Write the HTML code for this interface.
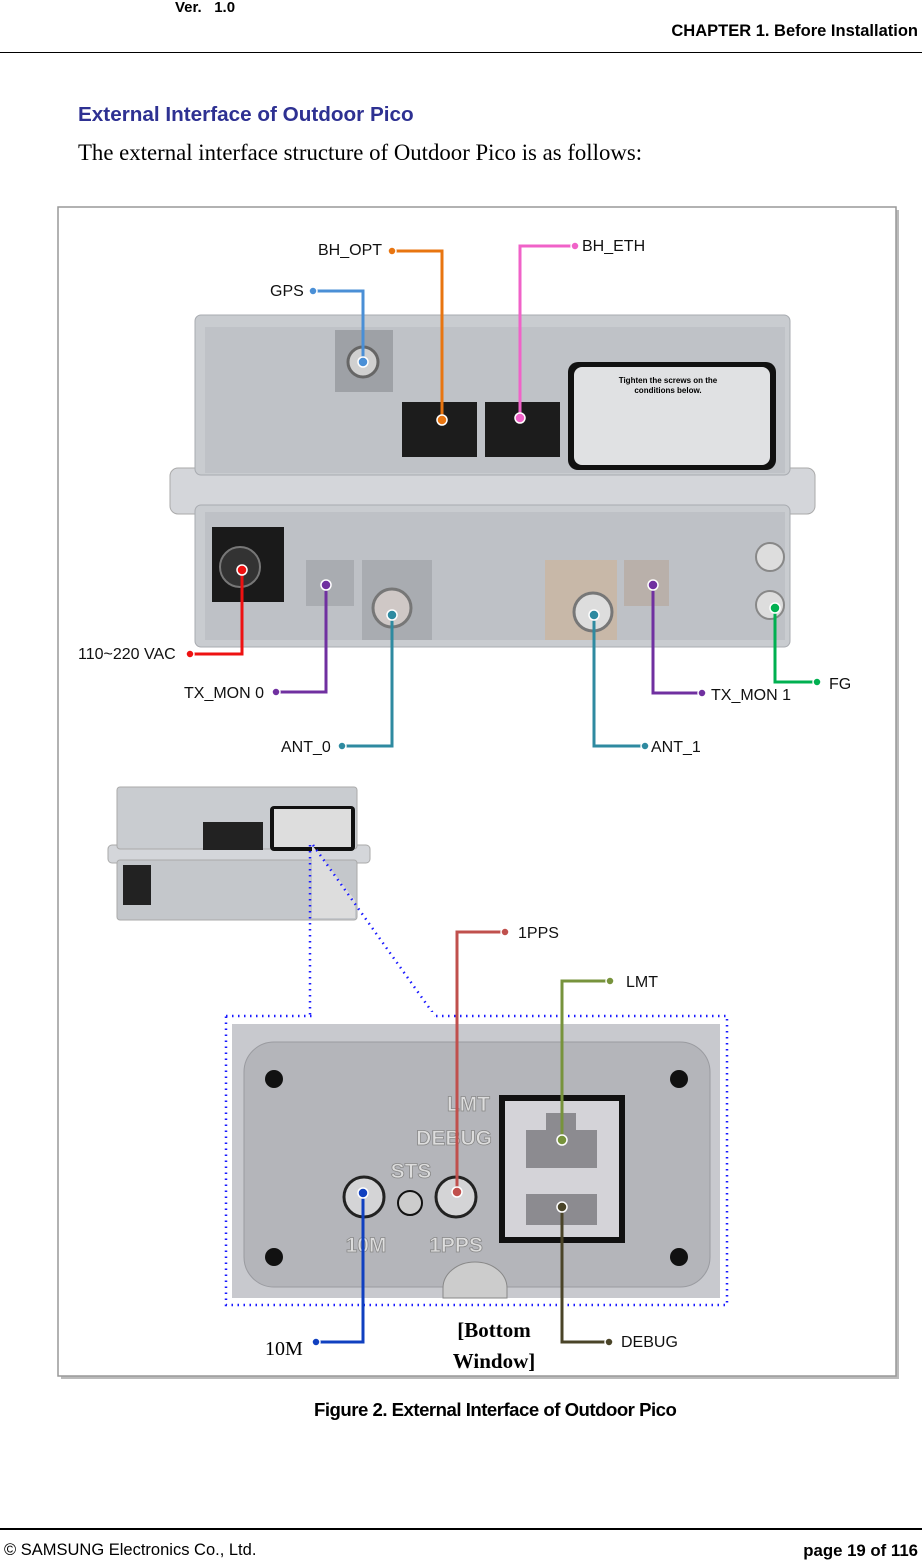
<!DOCTYPE html>
<html><head><meta charset="utf-8"><style>
body{margin:0;background:#fff;width:922px;height:1560px;position:relative;overflow:hidden;font-family:"Liberation Sans",sans-serif}
.t{position:absolute;white-space:nowrap}
</style></head><body>
<div class="t" style="left:175px;top:-1px;font-size:15px;font-weight:bold">Ver.&nbsp;&nbsp;&nbsp;1.0</div>
<div class="t" style="right:4px;top:22px;font-size:16.5px;font-weight:bold">CHAPTER 1. Before Installation</div>
<div style="position:absolute;left:0;top:52px;width:922px;height:1px;background:#000"></div>
<div class="t" style="left:78px;top:103px;font-size:20.7px;font-weight:bold;color:#2e3192">External Interface of Outdoor Pico</div>
<div class="t" style="left:78px;top:140px;font-size:22.8px;font-family:'Liberation Serif',serif">The external interface structure of Outdoor Pico is as follows:</div>
<div class="t" style="left:314px;top:1399px;font-size:18.6px;font-weight:bold;letter-spacing:-0.5px">Figure 2. External Interface of Outdoor Pico</div>
<div style="position:absolute;left:0;top:1528px;width:922px;height:2px;background:#000"></div>
<div class="t" style="left:4px;top:1541px;font-size:16.5px">© SAMSUNG Electronics Co., Ltd.</div>
<div class="t" style="right:4px;top:1541px;font-size:16.8px;font-weight:bold">page 19 of 116</div>

<svg style="position:absolute;left:0;top:0" width="922" height="1560" font-family="Liberation Sans, sans-serif">
<rect x="61" y="210" width="838" height="1169" fill="#bbb"/>
<rect x="58" y="207" width="838" height="1169" fill="#fff" stroke="#999" stroke-width="1.5"/>
<rect x="170" y="468" width="645" height="46" rx="8" fill="#d4d6da" stroke="#aaa"/>
<rect x="195" y="315" width="595" height="160" rx="6" fill="#c9ccd0" stroke="#a8abb0"/>
<rect x="205" y="327" width="580" height="146" fill="#bfc2c7"/>
<rect x="195" y="505" width="595" height="142" rx="6" fill="#c9ccd0" stroke="#a8abb0"/>
<rect x="205" y="512" width="580" height="128" fill="#bec1c6"/>
<rect x="335" y="330" width="58" height="62" fill="#9ea1a6"/>
<circle cx="363" cy="362" r="15" fill="#d0d0d0" stroke="#666" stroke-width="3"/>
<rect x="402" y="402" width="75" height="55" fill="#1c1c1c"/>
<rect x="485" y="402" width="75" height="55" fill="#1c1c1c"/>
<rect x="568" y="362" width="208" height="108" rx="10" fill="#111"/>
<rect x="574" y="367" width="196" height="98" rx="8" fill="#e0e1e3"/>
<text x="668" y="383" font-size="8" text-anchor="middle" font-weight="bold">Tighten the screws on the</text>
<text x="668" y="393" font-size="8" text-anchor="middle" font-weight="bold">conditions below.</text>
<rect x="212" y="527" width="72" height="75" fill="#1a1a1a"/>
<circle cx="240" cy="567" r="20" fill="#333" stroke="#777" stroke-width="2"/>
<rect x="306" y="560" width="48" height="46" fill="#a9acb1"/>
<rect x="362" y="560" width="70" height="80" fill="#a9acb1"/>
<circle cx="392" cy="608" r="19" fill="#cfc8c6" stroke="#777" stroke-width="3"/>
<rect x="545" y="560" width="72" height="80" fill="#c8b8a8"/>
<circle cx="593" cy="612" r="19" fill="#ddd" stroke="#777" stroke-width="3"/>
<rect x="624" y="560" width="45" height="46" fill="#b9b0aa"/>
<circle cx="770" cy="557" r="14" fill="#ddd" stroke="#888" stroke-width="2"/>
<circle cx="770" cy="605" r="14" fill="#ddd" stroke="#888" stroke-width="2"/>
<rect x="108" y="845" width="262" height="18" rx="4" fill="#d4d6da" stroke="#aaa"/>
<rect x="117" y="787" width="240" height="62" rx="3" fill="#c9ccd0" stroke="#aaa"/>
<rect x="117" y="860" width="240" height="60" rx="3" fill="#c4c7cb" stroke="#aaa"/>
<rect x="203" y="822" width="60" height="28" fill="#222"/>
<rect x="270" y="806" width="85" height="45" rx="4" fill="#111"/>
<rect x="274" y="809" width="77" height="38" fill="#ddd"/>
<rect x="123" y="865" width="28" height="40" fill="#222"/>
<polygon points="312,845 355,900 355,918 312,918" fill="#ddd"/>
<rect x="232" y="1024" width="488" height="274" fill="#c8c9ce"/>
<rect x="244" y="1042" width="466" height="245" rx="30" fill="#b4b5ba" stroke="#9a9ba0"/>
<circle cx="274" cy="1079" r="9" fill="#111"/><circle cx="679" cy="1079" r="9" fill="#111"/>
<circle cx="274" cy="1257" r="9" fill="#111"/><circle cx="679" cy="1257" r="9" fill="#111"/>
<text x="490" y="1111" font-size="21" font-weight="bold" fill="#ddd" stroke="#888" stroke-width=".8" text-anchor="end">LMT</text>
<text x="492" y="1145" font-size="21" font-weight="bold" fill="#ddd" stroke="#888" stroke-width=".8" text-anchor="end">DEBUG</text>
<text x="411" y="1178" font-size="21" font-weight="bold" fill="#ddd" stroke="#888" stroke-width=".8" text-anchor="middle">STS</text>
<text x="366" y="1252" font-size="21" font-weight="bold" fill="#ddd" stroke="#888" stroke-width=".8" text-anchor="middle">10M</text>
<text x="456" y="1252" font-size="21" font-weight="bold" fill="#ddd" stroke="#888" stroke-width=".8" text-anchor="middle">1PPS</text>
<circle cx="364" cy="1197" r="20" fill="#d4d4d6" stroke="#222" stroke-width="3"/>
<circle cx="410" cy="1203" r="12" fill="#ccc" stroke="#111" stroke-width="2"/>
<circle cx="456" cy="1197" r="20" fill="#d4d4d6" stroke="#222" stroke-width="3"/>
<rect x="502" y="1098" width="120" height="142" fill="#d4d3d8" stroke="#111" stroke-width="6"/>
<polygon points="526,1130 546,1130 546,1113 576,1113 576,1130 597,1130 597,1168 526,1168" fill="#8c8b90"/>
<rect x="526" y="1194" width="71" height="31" fill="#8c8b90"/>
<path d="M443,1298 v-10 a32,26 0 0 1 64,0 v10z" fill="#ccc" stroke="#888"/>
<g fill="none" stroke="#1a1aff" stroke-width="2.5" stroke-dasharray="1.5 4.5">
<rect x="226" y="1016" width="501" height="289"/>
<line x1="310" y1="845" x2="310" y2="1016"/>
<line x1="313" y1="845" x2="435" y2="1016"/>
</g>
<rect x="312" y="1012" width="122" height="8" fill="#fff"/>
<g fill="none" stroke-width="3">
<polyline points="313,291 363,291 363,362" stroke="#4a8fd6"/>
<polyline points="392,251 442,251 442,420" stroke="#e87510"/>
<polyline points="575,246 520,246 520,418" stroke="#f062c8"/>
<polyline points="190,654 242,654 242,570" stroke="#ee1111"/>
<polyline points="276,692 326,692 326,585" stroke="#7030a0"/>
<polyline points="342,746 392,746 392,615" stroke="#2e8aa0"/>
<polyline points="645,746 594,746 594,615" stroke="#2e8aa0"/>
<polyline points="702,693 653,693 653,585" stroke="#7030a0"/>
<polyline points="817,682 775,682 775,608" stroke="#00b050"/>
<polyline points="505,932 457,932 457,1192" stroke="#c0504d"/>
<polyline points="610,981 562,981 562,1140" stroke="#77933c"/>
<polyline points="609,1342 562,1342 562,1207" stroke="#4a4428"/>
<polyline points="316,1342 363,1342 363,1193" stroke="#1040c0"/>
</g>
<g stroke="#fff" stroke-width="1.5">
<circle cx="313" cy="291" r="4" fill="#4a8fd6"/><circle cx="363" cy="362" r="5" fill="#4a8fd6"/>
<circle cx="392" cy="251" r="4" fill="#e87510"/><circle cx="442" cy="420" r="5" fill="#e87510"/>
<circle cx="575" cy="246" r="4" fill="#f062c8"/><circle cx="520" cy="418" r="5" fill="#f062c8"/>
<circle cx="190" cy="654" r="4" fill="#ee1111"/><circle cx="242" cy="570" r="5" fill="#ee1111"/>
<circle cx="276" cy="692" r="4" fill="#7030a0"/><circle cx="326" cy="585" r="5" fill="#7030a0"/>
<circle cx="342" cy="746" r="4" fill="#2e8aa0"/><circle cx="392" cy="615" r="5" fill="#2e8aa0"/>
<circle cx="645" cy="746" r="4" fill="#2e8aa0"/><circle cx="594" cy="615" r="5" fill="#2e8aa0"/>
<circle cx="702" cy="693" r="4" fill="#7030a0"/><circle cx="653" cy="585" r="5" fill="#7030a0"/>
<circle cx="817" cy="682" r="4" fill="#00b050"/><circle cx="775" cy="608" r="5" fill="#00b050"/>
<circle cx="505" cy="932" r="4" fill="#c0504d"/><circle cx="457" cy="1192" r="5" fill="#c0504d"/>
<circle cx="610" cy="981" r="4" fill="#77933c"/><circle cx="562" cy="1140" r="5" fill="#77933c"/>
<circle cx="609" cy="1342" r="4" fill="#4a4428"/><circle cx="562" cy="1207" r="5" fill="#4a4428"/>
<circle cx="316" cy="1342" r="4" fill="#1040c0"/><circle cx="363" cy="1193" r="5" fill="#1040c0"/>
</g>
<g font-size="16" fill="#111">
<text x="318" y="255">BH_OPT</text>
<text x="582" y="251">BH_ETH</text>
<text x="270" y="296">GPS</text>
<text x="78" y="659">110~220 VAC</text>
<text x="184" y="698">TX_MON 0</text>
<text x="281" y="752">ANT_0</text>
<text x="651" y="752">ANT_1</text>
<text x="711" y="700">TX_MON 1</text>
<text x="829" y="689">FG</text>
<text x="518" y="938">1PPS</text>
<text x="626" y="987">LMT</text>
<text x="621" y="1347">DEBUG</text>
</g>
<text x="265" y="1355" font-size="20" font-family="Liberation Serif, serif">10M</text>
<text x="494" y="1337" font-size="21" font-weight="bold" font-family="Liberation Serif, serif" text-anchor="middle">[Bottom</text>
<text x="494" y="1368" font-size="21" font-weight="bold" font-family="Liberation Serif, serif" text-anchor="middle">Window]</text>
</svg>
</body></html>
